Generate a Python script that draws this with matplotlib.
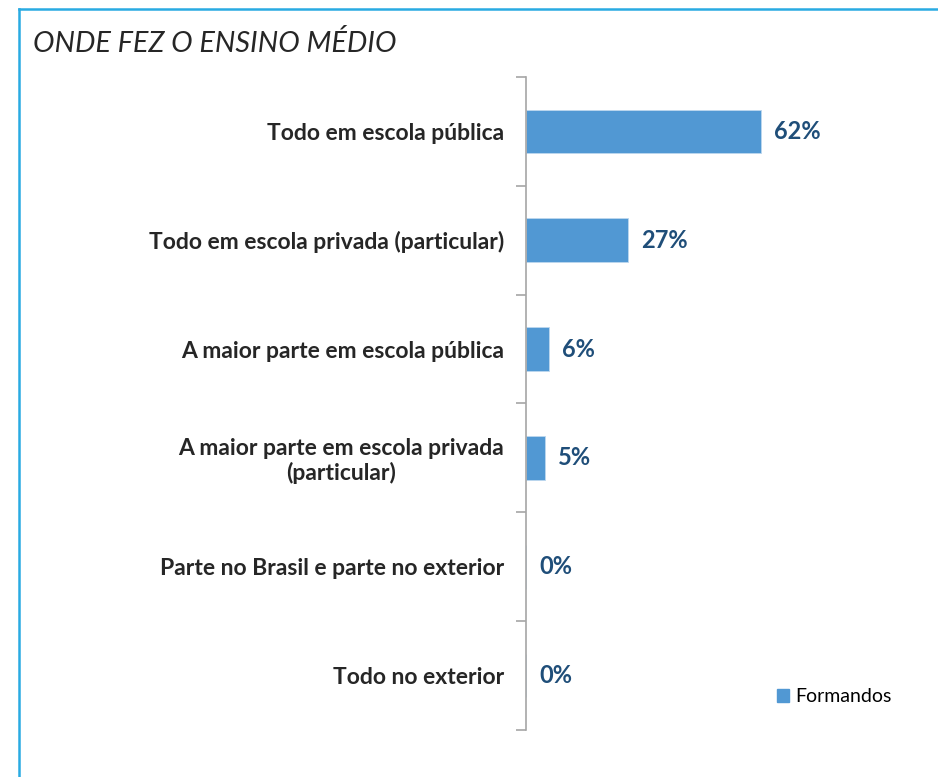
import matplotlib.pyplot as plt
from matplotlib.lines import Line2D
from matplotlib.patches import Patch

plt.rcParams['font.family'] = ['Lato', 'DejaVu Sans']

categories = [
    "Todo em escola pública",
    "Todo em escola privada (particular)",
    "A maior parte em escola pública",
    "A maior parte em escola privada\n(particular)",
    "Parte no Brasil e parte no exterior",
    "Todo no exterior",
]
values = [62, 27, 6, 5, 0, 0]
series_name = "Formandos"

bar_color = "#5198D3"
label_color = "#1F4E79"
text_color = "#262626"

fig = plt.figure(figsize=(9.38, 7.77), dpi=100)
ax = fig.add_axes([0.5608, 0.0605, 0.404, 0.8404])

pos = list(range(len(categories)))
ax.barh(pos, values, height=0.40, color=bar_color, edgecolor="#BDD7EE", linewidth=0.6)
ax.set_ylim(len(categories) - 0.5, -0.5)
ax.set_xlim(0, 100)

# tick marks sit between categories, labels centred on the bars
ax.set_yticks([p - 0.5 for p in pos] + [len(categories) - 0.5])
ax.set_yticklabels([])
ax.set_yticks(pos, minor=True)
ax.set_yticklabels(categories, minor=True, fontsize=16.5, fontweight='bold',
                   color=text_color, multialignment='center', linespacing=1.15)
ax.tick_params(axis='y', which='major', length=7, width=1.2, color="#A6A6A6", direction='out')
ax.tick_params(axis='y', which='minor', length=0, pad=15.8)
ax.set_xticks([])

for s in ['top', 'right', 'bottom']:
    ax.spines[s].set_visible(False)
ax.spines['left'].set_color("#A6A6A6")
ax.spines['left'].set_linewidth(1.2)

for p, v in zip(pos, values):
    ax.annotate(f"{v}%", (v, p), xytext=(9.4, 0), textcoords='offset points',
                va='center', ha='left', fontsize=17, fontweight='bold', color=label_color)

fig.text(33 / 938, 1 - 43 / 777, "ONDE FEZ O ENSINO MÉDIO", fontsize=20.8, style='italic',
         color=text_color, va='center', ha='left')

fig.legend(handles=[Patch(color=bar_color, label=series_name)], loc='center left',
           bbox_to_anchor=(777 / 938, 1 - 697 / 777), frameon=False, fontsize=14,
           handlelength=0.6, handleheight=0.6, handletextpad=0.35, borderpad=0, borderaxespad=0)

# frame lines (top and left only, cut off at the edges)
border = "#29ABE2"
fig.add_artist(Line2D([18.5 / 938, 1], [1 - 8.5 / 777, 1 - 8.5 / 777], color=border, linewidth=1.8,
                      transform=fig.transFigure))
fig.add_artist(Line2D([18.5 / 938, 18.5 / 938], [0, 1 - 8.5 / 777], color=border, linewidth=1.8,
                      transform=fig.transFigure))

fig.savefig("out.png", dpi=100)
